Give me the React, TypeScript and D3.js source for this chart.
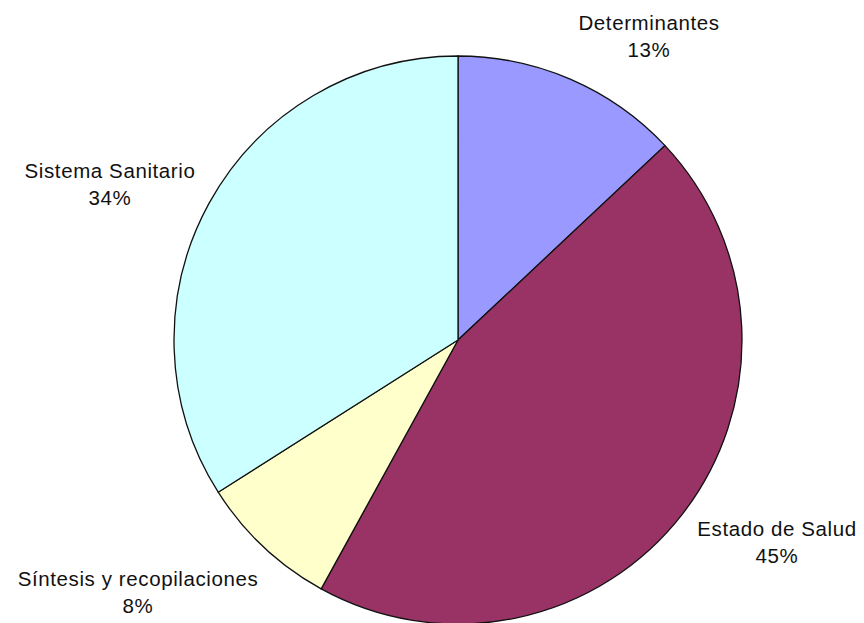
import React from 'react';
import * as d3 from 'd3';

const categories = ['Determinantes', 'Estado de Salud', 'Síntesis y recopilaciones', 'Sistema Sanitario'];
const values = [13, 45, 8, 34];
const colors = ['#9999ff', '#993366', '#ffffcc', '#ccffff'];

// label anchor (text centre, first baseline) for each slice
const labelPos = [
    [649, 30],
    [777, 536],
    [138, 586],
    [110, 178]
];

const width = 864;
const height = 623;
const cx = 458;
const cy = 340;
const radius = 284;

const App = () => {
    const total = d3.sum(values);
    const pie = d3.pie<number>().sort(null).value(d => d);
    const arcs = pie(values);
    const arc = d3.arc<d3.PieArcDatum<number>>().innerRadius(0).outerRadius(radius);

    return (
        <svg
            width={width}
            height={height}
            style={{ position: 'absolute', left: 0, top: 0, background: '#fff' }}
        >
            <g transform={`translate(${cx},${cy})`}>
                {arcs.map((a, i) => (
                    <path
                        key={categories[i]}
                        d={arc(a) || ''}
                        fill={colors[i]}
                        stroke="#111"
                        strokeWidth={1.3}
                    />
                ))}
            </g>
            {categories.map((name, i) => (
                <text
                    key={name}
                    x={labelPos[i][0]}
                    y={labelPos[i][1]}
                    textAnchor="middle"
                    fontFamily="'Liberation Sans', Arial, sans-serif"
                    fontSize={20.5}
                    letterSpacing={0.6}
                    fill="#111"
                >
                    <tspan x={labelPos[i][0]}>{name}</tspan>
                    <tspan x={labelPos[i][0]} dy={27}>
                        {Math.round((values[i] / total) * 100)}%
                    </tspan>
                </text>
            ))}
        </svg>
    );
};

export default App;
